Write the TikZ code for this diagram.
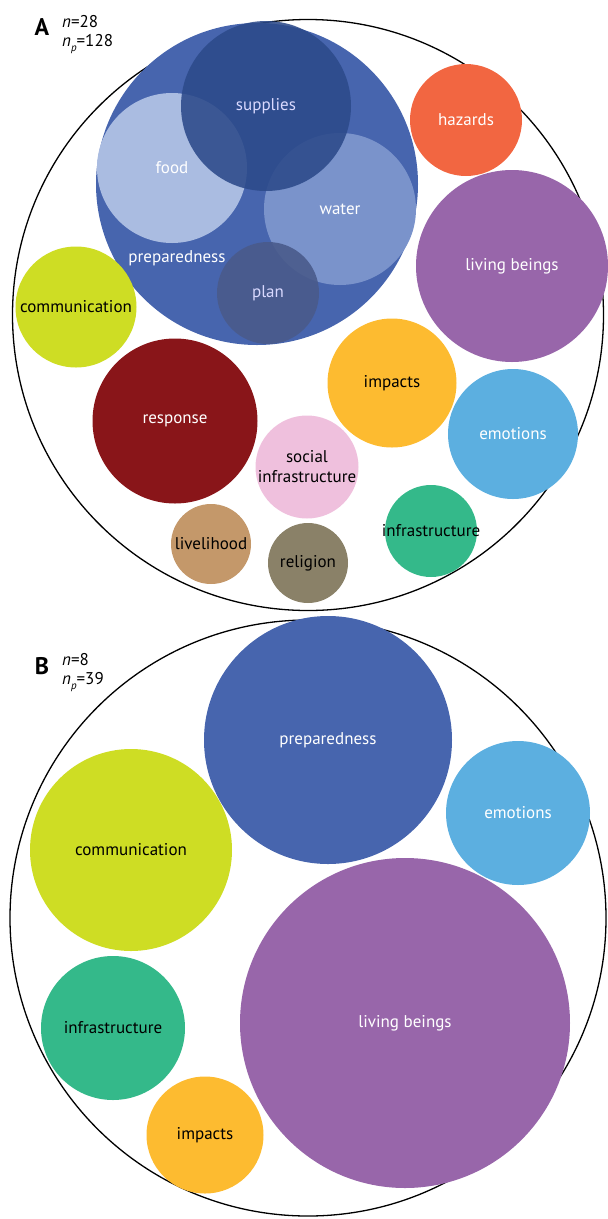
\documentclass[tikz,border=0pt]{standalone}
\usepackage{fontspec}
\setmainfont{PT Sans}
\usetikzlibrary{positioning}
\definecolor{prepblue}{HTML}{4765AE}
\definecolor{supblue}{HTML}{2C4A8A}
\definecolor{foodblue}{HTML}{AABCE1}
\definecolor{waterblue}{HTML}{7A93CB}
\definecolor{planblue}{HTML}{4A5B8B}
\definecolor{hazorange}{HTML}{F26641}
\definecolor{livpurple}{HTML}{9866AA}
\definecolor{comgreen}{HTML}{CEDD24}
\definecolor{resred}{HTML}{891519}
\definecolor{impyellow}{HTML}{FDBB30}
\definecolor{emoblue}{HTML}{5CAFE0}
\definecolor{socpink}{HTML}{EFC0DD}
\definecolor{infgreen}{HTML}{34B98A}
\definecolor{livbrown}{HTML}{C4986A}
\definecolor{relgrey}{HTML}{8A8168}
\tikzset{
  bub/.style 2 args={circle, fill=#1, draw=none, inner sep=0pt, minimum size=#2pt,
    font=\fontsize{17}{20}\selectfont, align=center},
  outer/.style={circle, draw=black, line width=1.3pt, inner sep=0pt, minimum size=#1pt},
  panel/.style={font=\fontsize{24}{26}\selectfont\bfseries},
  stat/.style={font=\fontsize{17}{19}\selectfont, anchor=west, inner sep=0pt}
}
\newcommand{\np}[1]{\textit{n}\raisebox{-0.55ex}{\fontsize{11}{11}\selectfont\textit{p}}=#1}
% zero width text, so the circle keeps its size
\newcommand{\bl}[1]{\makebox[0pt]{#1}}

\begin{document}
\begin{tikzpicture}[x=1pt, y=-1pt]
\useasboundingbox (0,0) rectangle (608,1219);
% panel A
\node (outA) at (308,315) [outer=591] {};
\node (labA) at (42,27) [panel] {A};
\node (nA) at (62,22) [stat] {\textit{n}=28};
\node (npA) at (62,44) [stat] {\np{128}};
\node (prepA) at (257,184) [bub={prepblue}{322}] {};
\node (prepAtxt) at (177,258) [font=\fontsize{17}{20}\selectfont, text=white] {preparedness};
\node (food) at (172,168) [bub={foodblue}{150}, text=white] {food};
\node (water) at (340,209) [bub={waterblue}{152}, text=white] {water};
\node (supplies) at (266,106) [bub={supblue}{170}, fill opacity=0.88, text opacity=1, text=white!85!blue] {supplies};
\node (plan) at (268,293) [bub={planblue}{102}, fill opacity=0.9, text opacity=1, text=white!85!blue] {plan};
\node (hazA) at (466,120) [bub={hazorange}{112}, text=white] {hazards};
\node (livA) at (512,266) [bub={livpurple}{192}, text=white] {living beings};
\node (comA) at (76,307) [bub={comgreen}{121}] {\bl{communication}};
\node (resA) at (175,421) [bub={resred}{165}, text=white] {response};
\node (impA) at (392,383) [bub={impyellow}{129}] {impacts};
\node (emoA) at (513,434) [bub={emoblue}{130}, text=white] {emotions};
\node (socA) at (307,467) [bub={socpink}{103}] {\bl{social}\\\bl{infrastructure}};
\node (infA) at (431,531) [bub={infgreen}{92}] {\bl{infrastructure}};
\node (lhA) at (211,544) [bub={livbrown}{80}] {\bl{livelihood}};
\node (relA) at (308,563) [bub={relgrey}{80}] {religion};
% panel B
\node (outB) at (308,918) [outer=596] {};
\node (labB) at (42,666) [panel] {B};
\node (nB) at (62,660) [stat] {\textit{n}=8};
\node (npB) at (62,682) [stat] {\np{39}};
\node (prepB) at (328,740) [bub={prepblue}{248}, text=white] {preparedness};
\node (emoB) at (518,813) [bub={emoblue}{144}, text=white] {emotions};
\node (comB) at (131,850) [bub={comgreen}{202}] {communication};
\node (livB) at (405,1023) [bub={livpurple}{330}, text=white] {living beings};
\node (infB) at (113,1028) [bub={infgreen}{144}] {infrastructure};
\node (impB) at (205,1135) [bub={impyellow}{117}] {impacts};
\end{tikzpicture}
\end{document}
